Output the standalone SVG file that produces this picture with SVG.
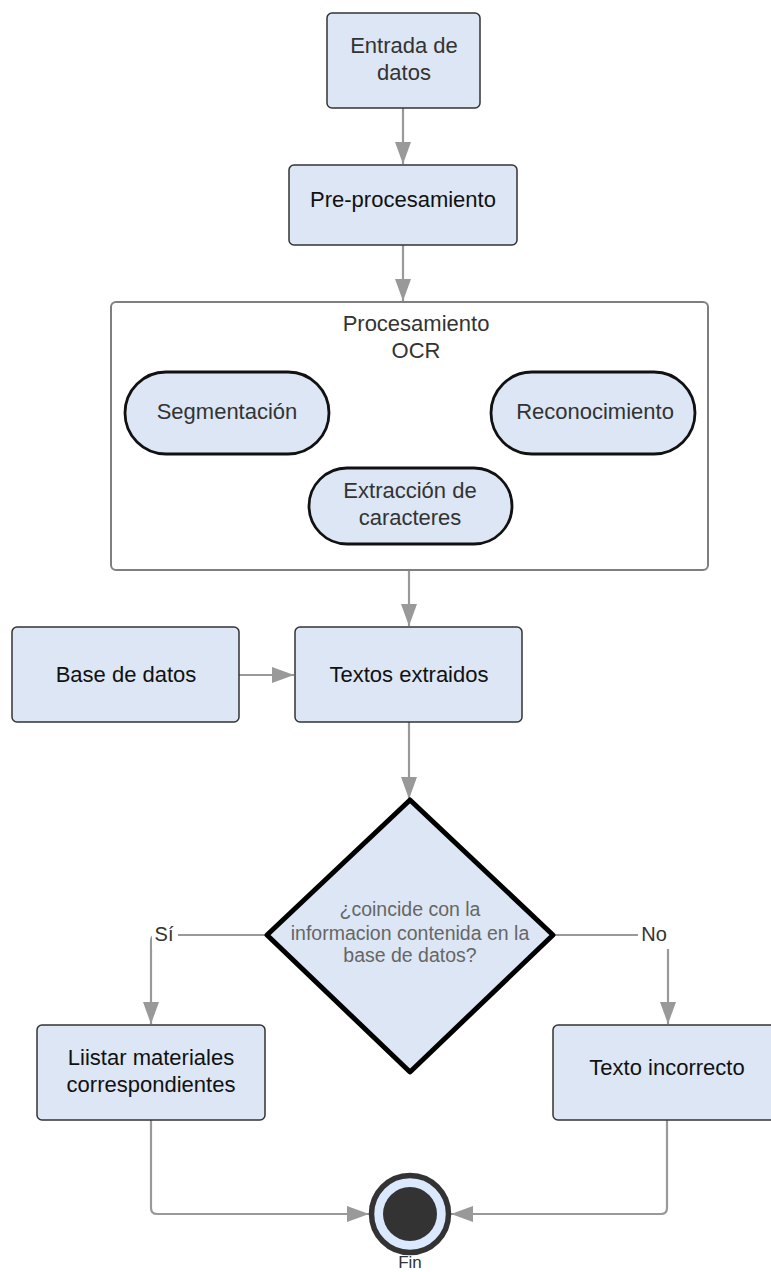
<svg xmlns="http://www.w3.org/2000/svg" width="771" height="1272" viewBox="0 0 771 1272">
<style>
  .box { fill: #dce6f4; stroke: #333333; stroke-width: 1.5; }
  .pill { fill: #dce6f4; stroke: #111111; stroke-width: 2.8; }
  .cont { fill: #ffffff; stroke: #7f7f7f; stroke-width: 2; }
  .diam { fill: #dce6f4; stroke: #000000; stroke-width: 5; stroke-linejoin: round; }
  .t { font-family: "Liberation Sans", Arial, sans-serif; font-size: 22px; text-anchor: middle; }
  .dk { fill: #333333; }
  .bk { fill: #111111; }
  .q { font-family: "Liberation Sans", Arial, sans-serif; font-size: 19.5px; text-anchor: middle; fill: #666666; }
  .lbl { font-family: "Liberation Sans", Arial, sans-serif; font-size: 20px; text-anchor: middle; fill: #333333; }
  .conn { fill: none; stroke: #999999; stroke-width: 2.2; stroke-linejoin: round; }
</style>
<defs>
  <marker id="arr" viewBox="0 0 22 16" refX="22" refY="8" markerWidth="22" markerHeight="16" markerUnits="userSpaceOnUse" orient="auto">
    <path d="M0,0 L22,8 L0,16 Z" fill="#999999"/>
  </marker>
</defs>
<rect width="771" height="1272" fill="#ffffff"/>

<g id="connectors">
  <path class="conn" d="M403,108 L403,164" marker-end="url(#arr)"/>
  <path class="conn" d="M403,245 L403,301" marker-end="url(#arr)"/>
  <path class="conn" d="M409,570 L409,626" marker-end="url(#arr)"/>
  <path class="conn" d="M239,675 L294,675" marker-end="url(#arr)"/>
  <path class="conn" d="M409,722 L409,799" marker-end="url(#arr)"/>
  <path class="conn" d="M267,935 L157,935 Q151,935 151,941 L151,1024" marker-end="url(#arr)"/>
  <path class="conn" d="M553,935 L662,935 Q668,935 668,941 L668,1024" marker-end="url(#arr)"/>
  <path class="conn" d="M151,1120 L151,1208 Q151,1214 157,1214 L369,1214" marker-end="url(#arr)"/>
  <path class="conn" d="M667,1120 L667,1208 Q667,1214 661,1214 L451,1214" marker-end="url(#arr)"/>
  <rect x="152" y="921" width="26" height="28" fill="#ffffff"/>
  <text class="lbl" x="164" y="941">Sí</text>
  <rect x="638" y="921" width="36" height="28" fill="#ffffff"/>
  <text class="lbl" x="654" y="941">No</text>
</g>

<g id="entrada">
  <rect class="box" x="327" y="13" width="153" height="95" rx="5"/>
  <text class="t dk" x="404" y="53">Entrada de</text>
  <text class="t dk" x="404" y="80">datos</text>
</g>

<g id="preproc">
  <rect class="box" x="289" y="165" width="228" height="80" rx="5"/>
  <text class="t bk" x="403" y="207">Pre-procesamiento</text>
</g>

<g id="ocr">
  <rect class="cont" x="111" y="302" width="597" height="268" rx="5"/>
  <text class="t dk" x="416" y="331">Procesamiento</text>
  <text class="t dk" x="416" y="358">OCR</text>
</g>

<g id="segmentacion">
  <rect class="pill" x="125" y="372" width="204" height="82" rx="41"/>
  <text class="t dk" x="227" y="419">Segmentación</text>
</g>

<g id="reconocimiento">
  <rect class="pill" x="491" y="372" width="204" height="82" rx="41"/>
  <text class="t dk" x="595" y="419">Reconocimiento</text>
</g>

<g id="extraccion">
  <rect class="pill" x="309" y="468" width="203" height="76" rx="38"/>
  <text class="t dk" x="410" y="498">Extracción de</text>
  <text class="t dk" x="410" y="525">caracteres</text>
</g>

<g id="basedatos">
  <rect class="box" x="12" y="627" width="227" height="95" rx="5"/>
  <text class="t bk" x="126" y="682">Base de datos</text>
</g>

<g id="textos">
  <rect class="box" x="295" y="627" width="227" height="95" rx="5"/>
  <text class="t bk" x="409" y="682">Textos extraidos</text>
</g>

<g id="decision">
  <path class="diam" d="M410,800 L553,935 L410,1072 L267,935 Z"/>
  <text class="q" x="410" y="916">¿coincide con la</text>
  <text class="q" x="410" y="940">informacion contenida en la</text>
  <text class="q" x="410" y="962">base de datos?</text>
</g>

<g id="listar">
  <rect class="box" x="37" y="1025" width="228" height="95" rx="5"/>
  <text class="t bk" x="151" y="1065">Liistar materiales</text>
  <text class="t bk" x="151" y="1092">correspondientes</text>
</g>

<g id="incorrecto">
  <rect class="box" x="553" y="1025" width="229" height="95" rx="5"/>
  <text class="t bk" x="667" y="1075">Texto incorrecto</text>
</g>

<g id="fin">
  <circle cx="410" cy="1214" r="38.5" fill="#dbe9ff" stroke="#333333" stroke-width="5.5"/>
  <circle cx="410" cy="1214" r="27" fill="#333333"/>
  <text class="lbl" x="410" y="1268" style="font-size:17px">Fin</text>
</g>
</svg>
